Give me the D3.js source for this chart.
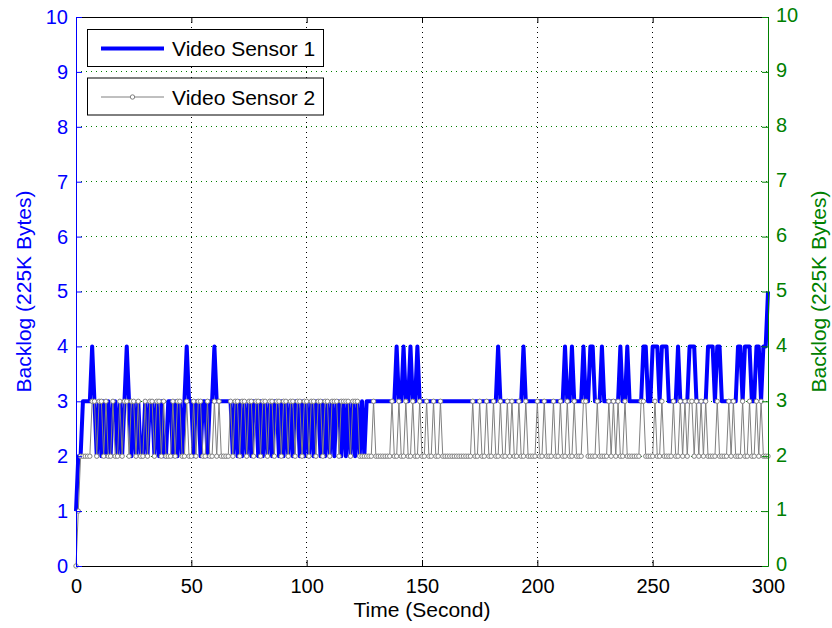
<!DOCTYPE html>
<html>
<head>
<meta charset="utf-8">
<script src="https://cdn.jsdelivr.net/npm/d3@7"></script>
<style>
  body { margin: 0; background: #fff; }
  svg { display: block; font-family: "Liberation Sans", Arial, sans-serif; }
</style>
</head>
<body>
<svg id="chart" width="832" height="628"></svg>
<script>
// ---- Data ----
const xTicks = [0, 50, 100, 150, 200, 250, 300];
const yTicks = [0, 1, 2, 3, 4, 5, 6, 7, 8, 9, 10];
const seriesNames = ["Video Sensor 1", "Video Sensor 2"];
const xLabel = "Time (Second)";
const yLabel = "Backlog (225K Bytes)";

// Video Sensor 1 backlog, one value per second (t = 0..300)
const sensor1 = [
  1,2,2,3,3,3,3,4,3,2,
  3,2,3,2,3,2,3,3,2,3,
  2,3,4,3,2,3,2,3,2,2,
  3,2,3,3,2,3,2,3,2,2,
  3,3,2,3,2,3,2,3,4,3,
  3,2,3,3,2,3,3,2,3,3,
  4,3,3,3,3,3,3,3,2,3,
  2,3,2,3,2,3,2,3,3,2,
  3,2,3,2,3,2,3,3,2,3,
  2,3,2,3,2,3,3,2,3,2,
  3,2,3,2,3,3,2,3,2,3,
  2,3,2,3,3,2,3,2,3,2,
  3,2,3,2,3,2,3,3,3,3,
  3,3,3,3,3,3,3,3,3,4,
  3,3,4,3,3,4,3,3,4,3,
  3,3,3,3,3,3,3,3,3,3,
  3,3,3,3,3,3,3,3,3,3,
  3,3,3,3,3,3,3,3,3,3,
  3,3,3,4,3,3,3,3,3,3,
  3,3,3,3,4,3,3,3,3,3,
  3,3,3,3,3,3,3,3,3,3,
  3,3,4,3,3,4,3,3,3,3,
  4,3,3,4,4,3,3,3,4,3,
  3,3,3,3,3,3,4,3,3,4,
  3,3,3,3,3,3,4,4,3,3,
  4,4,4,3,4,4,4,3,3,3,
  3,4,3,3,3,3,4,4,4,3,
  3,3,3,3,4,4,4,3,4,4,
  3,3,3,3,3,3,3,4,4,3,
  4,4,4,3,3,4,4,3,4,4,
  5
];

// Video Sensor 2 backlog, one value per second (t = 0..300)
const sensor2 = [
  0,1,2,2,2,2,2,3,3,2,
  3,3,2,3,2,2,3,2,2,3,
  2,3,3,2,3,3,2,3,2,2,
  3,2,3,3,2,3,3,2,3,2,
  2,2,3,2,3,3,2,2,3,2,
  2,3,2,3,3,2,2,3,2,2,
  3,2,3,2,2,2,2,3,2,3,
  3,2,3,3,2,3,3,2,3,3,
  2,3,3,2,3,3,2,3,3,2,
  3,3,2,3,3,2,3,3,2,3,
  3,2,3,3,2,3,3,2,3,3,
  2,3,3,3,2,3,3,3,3,2,
  3,3,3,2,2,2,2,2,2,3,
  2,2,2,2,2,2,2,3,2,2,
  3,2,2,3,2,2,3,2,2,3,
  2,2,3,2,2,3,2,2,3,2,
  2,2,2,2,2,2,2,2,2,2,
  2,2,3,2,2,3,2,2,3,2,
  2,3,2,2,3,2,2,3,2,3,
  2,2,3,2,2,3,2,2,2,2,
  3,2,2,3,2,2,2,3,2,2,
  3,2,2,3,2,2,3,2,2,2,
  3,3,2,2,2,2,3,2,2,2,
  2,3,2,3,2,3,2,2,3,2,
  2,2,2,2,2,3,3,2,2,2,
  2,3,2,2,3,2,2,2,2,3,
  2,2,3,2,3,2,3,3,2,3,
  2,3,2,3,2,2,2,2,3,2,
  2,2,2,3,2,3,2,2,2,3,
  2,2,3,2,2,3,2,3,2,2,
  2
];

// ---- Layout ----
const svg = d3.select("#chart");
const L = 76, R = 768, T = 17, B = 566;
const FONT = 21, TICK_FONT = 20;
const blue = "#0000ff", green = "#008000", gray = "#808080";

const x = d3.scaleLinear().domain([0, 300]).range([L, R]);
const yL = d3.scaleLinear().domain([0, 10]).range([B, T]);
const yR = d3.scaleLinear().domain([0, 10]).range([B, T]);

svg.append("rect").attr("x", 0).attr("y", 0).attr("width", 832).attr("height", 628).attr("fill", "#fff");

// grid
const grid = svg.append("g");
grid.selectAll("line.v").data(xTicks.filter(d => d > 0 && d < 300)).enter().append("line")
  .attr("x1", d => x(d)).attr("x2", d => x(d)).attr("y1", T).attr("y2", B)
  .attr("stroke", "#000").attr("stroke-width", 1).attr("stroke-dasharray", "1,4")
  .attr("shape-rendering", "crispEdges");
grid.selectAll("line.h").data(yTicks.filter(d => d > 0 && d < 10)).enter().append("line")
  .attr("x1", L).attr("x2", R).attr("y1", d => yR(d)).attr("y2", d => yR(d))
  .attr("stroke", green).attr("stroke-width", 1).attr("stroke-dasharray", "1,4")
  .attr("shape-rendering", "crispEdges");

// series
const idx = d3.range(sensor1.length);
const line1 = d3.line().x(i => x(i)).y(i => yL(sensor1[i]));
const line2 = d3.line().x(i => x(i)).y(i => yR(sensor2[i]));

svg.append("path").datum(idx).attr("d", line1)
  .attr("fill", "none").attr("stroke", blue).attr("stroke-width", 4)
  .attr("stroke-linejoin", "round");

svg.append("path").datum(idx).attr("d", line2)
  .attr("fill", "none").attr("stroke", gray).attr("stroke-width", 1);
svg.append("g").selectAll("circle").data(idx).enter().append("circle")
  .attr("cx", i => x(i)).attr("cy", i => yR(sensor2[i])).attr("r", 2.2)
  .attr("fill", "#fff").attr("stroke", gray).attr("stroke-width", 1);

// axes
function styleAxis(g, color) {
  g.selectAll("path.domain").attr("stroke", color);
  g.selectAll(".tick line").attr("stroke", color);
  g.selectAll(".tick text").attr("fill", color).attr("font-size", TICK_FONT)
    .attr("font-family", '"Liberation Sans", Arial, sans-serif');
}
const ax = svg.append("g").attr("transform", `translate(0,${B})`)
  .call(d3.axisBottom(x).tickValues(xTicks).tickSizeInner(-6).tickSizeOuter(0).tickPadding(13));
styleAxis(ax, "#000");
const axT = svg.append("g").attr("transform", `translate(0,${T})`)
  .call(d3.axisTop(x).tickValues(xTicks).tickSizeInner(-6).tickSizeOuter(0).tickFormat(""));
styleAxis(axT, "#000");
const ayL = svg.append("g").attr("transform", `translate(${L},0)`)
  .call(d3.axisLeft(yL).tickValues(yTicks).tickSizeInner(-6).tickSizeOuter(0).tickPadding(8));
styleAxis(ayL, blue);
const ayR = svg.append("g").attr("transform", `translate(${R},0)`)
  .call(d3.axisRight(yR).tickValues(yTicks).tickSizeInner(-6).tickSizeOuter(0).tickPadding(8));
styleAxis(ayR, green);
ayR.selectAll(".tick text").attr("dy", "0.24em");

// titles
svg.append("text").attr("x", (L + R) / 2).attr("y", 617).attr("text-anchor", "middle")
  .attr("font-size", FONT).attr("fill", "#000").text(xLabel);
svg.append("text").attr("transform", `translate(23,${(T + B) / 2}) rotate(-90)`)
  .attr("text-anchor", "middle").attr("dominant-baseline", "central")
  .attr("font-size", FONT).attr("fill", blue).text(yLabel);
svg.append("text").attr("transform", `translate(818,${(T + B) / 2}) rotate(-90)`)
  .attr("text-anchor", "middle").attr("dominant-baseline", "central")
  .attr("font-size", FONT).attr("fill", green).text(yLabel);

// legends (two separate boxes)
const legends = [
  { name: seriesNames[0], top: 29, color: blue, width: 4, marker: false },
  { name: seriesNames[1], top: 77.5, color: gray, width: 1, marker: true }
];
legends.forEach(lg => {
  const g = svg.append("g");
  g.append("rect").attr("x", 87.5).attr("y", lg.top + 0.5).attr("width", 236).attr("height", 37)
    .attr("fill", "#fff").attr("stroke", "#000").attr("stroke-width", 1);
  const cy = lg.top + 19.5;
  g.append("line").attr("x1", 101).attr("x2", 164).attr("y1", cy).attr("y2", cy)
    .attr("stroke", lg.color).attr("stroke-width", lg.width);
  if (lg.marker) {
    g.append("circle").attr("cx", 132.5).attr("cy", cy).attr("r", 2.2)
      .attr("fill", "#fff").attr("stroke", gray);
  }
  g.append("text").attr("x", 172).attr("y", cy + 7.5).attr("font-size", FONT)
    .attr("fill", "#000").text(lg.name);
});
</script>
</body>
</html>
